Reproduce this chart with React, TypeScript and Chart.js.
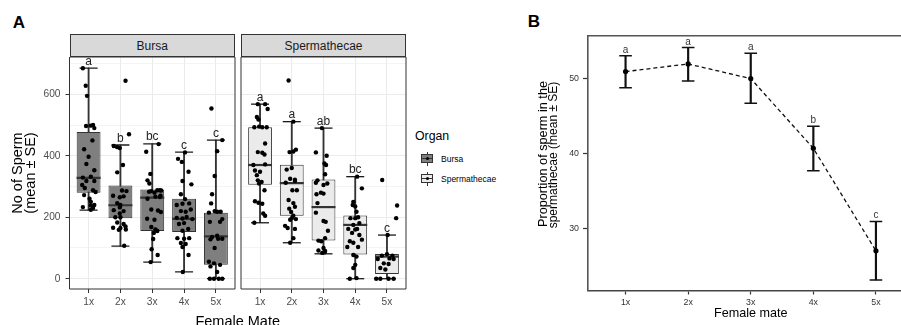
import React, { useEffect, useRef } from 'react';
import { Chart, registerables } from 'chart.js';

Chart.register(...registerables);

const FONT = '"Liberation Sans", Arial, Helvetica, sans-serif';

// ---------- shared axes ----------
const categories = ['1x', '2x', '3x', '4x', '5x'];
const organLabels = ['Bursa', 'Spermathecae'];
const countGridValues = [0, 100, 200, 300, 400, 500, 600, 700];
const countTickLabels = [0, 200, 400, 600];
const propTickLabels = [30, 40, 50];

// ---------- panel A : Bursa box statistics ----------
const bursaQ1 = [280, 197, 155, 152, 45];
const bursaMedian = [328, 239, 264, 195, 138];
const bursaQ3 = [477, 303, 290, 260, 215];
const bursaLow = [223, 106, 54, 22, 0];
const bursaHigh = [685, 435, 439, 412, 451];
const bursaLetters = ['a', 'b', 'bc', 'c', 'c'];

// ---------- panel A : Spermathecae box statistics ----------
const spermQ1 = [306, 205, 124, 79, 15];
const spermMedian = [370, 311, 233, 175, 72];
const spermQ3 = [493, 371, 323, 206, 80];
const spermLow = [182, 117, 81, 0, 0];
const spermHigh = [568, 511, 490, 332, 142];
const spermLetters = ['a', 'a', 'ab', 'bc', 'c'];

// ---------- panel A : individual females, [jitter (category units), count] ----------
type Pt = [number, number];
const bursa1x: Pt[] = [[-0.18,685],[-0.09,628],[-0.05,595],[-0.08,497],[0.07,498],[0.14,500],[0.18,490],[0.12,450],[-0.14,421],[0,397],[-0.07,373],[0.18,353],[-0.18,329],[0.07,332],[-0.07,318],[0.18,318],[-0.2,305],[-0.12,295],[0.14,288],[0.22,282],[-0.14,272],[0.03,260],[0.07,250],[0.18,240],[-0.18,233],[0.07,238],[0.14,230],[0.07,224]];
const bursa2x: Pt[] = [[0.16,644],[0.27,470],[-0.21,432],[-0.1,428],[-0.02,425],[0.08,370],[-0.1,346],[0.05,287],[0.19,285],[-0.23,270],[-0.02,265],[0.1,268],[-0.1,246],[0,240],[-0.02,232],[-0.21,223],[0.1,220],[-0.02,212],[-0.16,200],[0,200],[-0.1,183],[0.1,178],[-0.23,166],[0,165],[0.16,170],[-0.05,159],[0.17,160],[0.12,107]];
const bursa3x: Pt[] = [[0.2,438],[-0.19,413],[-0.06,341],[-0.15,320],[-0.09,310],[0.16,288],[0.24,288],[-0.03,285],[0.28,287],[0.07,280],[0.1,267],[0.24,266],[-0.15,260],[-0.03,225],[0.18,222],[0.27,217],[-0.16,195],[0.07,192],[-0.03,168],[0.1,160],[0.16,155],[0.05,149],[0.03,129],[-0.02,96],[0.17,77],[-0.05,54],[-0.1,283],[0.26,270]];
const bursa4x: Pt[] = [[0.03,411],[-0.19,390],[-0.07,380],[0.14,348],[-0.05,318],[0.23,307],[-0.1,275],[0.03,259],[-0.23,240],[-0.05,244],[0.16,245],[-0.1,220],[0.05,218],[0.21,225],[-0.23,198],[-0.05,196],[0.08,201],[0.26,194],[-0.16,178],[0,181],[0.13,162],[-0.05,156],[-0.21,132],[0,130],[0.16,132],[-0.1,116],[0.05,113],[-0.05,103],[0.14,77],[-0.04,22]];
const bursa5x: Pt[] = [[-0.14,554],[0.2,451],[0.04,415],[-0.04,334],[-0.12,275],[-0.15,245],[-0.22,215],[-0.04,220],[0.04,218],[0.15,218],[0.2,194],[-0.19,185],[0.13,185],[-0.12,136],[0.04,140],[0.07,130],[0.2,130],[-0.17,128],[-0.04,100],[-0.22,55],[-0.06,50],[0.13,45],[-0.17,40],[0.04,22],[-0.19,0],[-0.06,0],[0.09,0],[0.2,0]];

const sperm1x: Pt[] = [[-0.07,568],[0.16,568],[0.24,552],[-0.1,526],[-0.05,518],[-0.18,493],[-0.03,495],[0.07,493],[0.21,493],[0.16,440],[-0.07,412],[0.07,410],[0.14,404],[-0.21,370],[0.16,372],[-0.16,352],[0,348],[-0.1,337],[-0.07,320],[-0.03,310],[0.05,315],[0.14,288],[-0.16,252],[-0.05,247],[0.07,244],[0.1,212],[0.16,205],[-0.18,182]];
const sperm2x: Pt[] = [[-0.1,645],[0.05,511],[-0.07,412],[0.05,414],[0.13,420],[0,360],[-0.16,355],[-0.05,325],[0.1,322],[-0.19,312],[0.1,318],[0.02,288],[0.16,288],[-0.1,256],[0.05,246],[0.1,234],[-0.08,228],[-0.02,217],[0.05,205],[0,197],[0.13,194],[-0.05,192],[-0.21,172],[-0.13,165],[0.1,162],[0.05,132],[-0.05,117]];
const sperm3x: Pt[] = [[-0.05,490],[-0.24,411],[0.1,400],[0.03,375],[0.08,370],[0.05,340],[-0.19,320],[-0.24,312],[0.12,310],[0,305],[-0.22,275],[0,277],[-0.08,280],[-0.19,246],[-0.24,215],[0.07,185],[0,188],[0.14,156],[0.05,132],[-0.16,124],[-0.07,122],[0,100],[-0.16,92],[0.05,90],[-0.04,84],[0.03,86]];
const sperm4x: Pt[] = [[0.06,332],[0.21,294],[-0.06,250],[-0.08,240],[0,235],[0.04,218],[-0.15,197],[0,197],[0.09,200],[0.13,181],[-0.06,175],[-0.22,162],[0,160],[0.06,162],[-0.1,149],[0.13,142],[-0.17,122],[-0.06,117],[0.21,127],[-0.25,103],[0.09,103],[-0.06,77],[0.04,72],[0,45],[-0.06,35],[0.04,2],[-0.17,0]];
const sperm5x: Pt[] = [[-0.15,321],[0.32,238],[0.29,197],[0.02,142],[0,80],[-0.16,75],[0.17,75],[-0.29,64],[0.08,66],[0.21,64],[-0.1,50],[0.05,48],[-0.21,35],[-0.05,30],[-0.34,0],[-0.21,0],[0.05,0],[0.21,0]];

// ---------- panel B : proportion in spermathecae ----------
const propMean = [50.88, 51.9, 49.95, 40.69, 27.07];
const propUpper = [53.0, 54.07, 53.32, 43.62, 30.98];
const propLower = [48.75, 49.64, 46.68, 37.71, 23.2];
const propLetters = ['a', 'a', 'a', 'b', 'c'];

const BURSA_FILL = '#7f7f7f';
const SPERM_FILL = '#ebebeb';

function letterPlugin(labels: string[], at: number[], size: number, gap: number, color: string) {
  return {
    id: 'letters',
    afterDatasetsDraw(chart: any) {
      const { ctx, scales } = chart;
      ctx.save();
      ctx.font = `${size}px ${FONT}`;
      ctx.fillStyle = color;
      ctx.textAlign = 'center';
      ctx.textBaseline = 'alphabetic';
      labels.forEach((t, i) => {
        ctx.fillText(t, scales.x.getPixelForValue(i + 1), scales.y.getPixelForValue(at[i]) - gap);
      });
      ctx.restore();
    },
  };
}

function framePlugin(sides: string[], color: string, width: number) {
  return {
    id: 'frame',
    afterDraw(chart: any) {
      const { ctx, chartArea: a } = chart;
      ctx.save();
      ctx.strokeStyle = color;
      ctx.lineWidth = width;
      ctx.beginPath();
      if (sides.includes('top')) { ctx.moveTo(a.left, a.top); ctx.lineTo(a.right, a.top); }
      if (sides.includes('bottom')) { ctx.moveTo(a.left, a.bottom); ctx.lineTo(a.right, a.bottom); }
      if (sides.includes('left')) { ctx.moveTo(a.left, a.top); ctx.lineTo(a.left, a.bottom); }
      if (sides.includes('right')) { ctx.moveTo(a.right, a.top); ctx.lineTo(a.right, a.bottom); }
      ctx.stroke();
      ctx.restore();
    },
  };
}

const xPositions = categories.map((_, i) => i + 1);

function boxConfig(
  q1: number[], med: number[], q3: number[], lo: number[], hi: number[],
  pts: Pt[][], letters: string[], fill: string, showY: boolean, yWidth: number, padRight: number,
): any {
  const isMajor = (v: number) => countTickLabels.includes(v);
  return {
    type: 'bar',
    data: {
      datasets: [
        {
          type: 'bar', order: 5, grouped: false, barThickness: 1.2, borderWidth: 0,
          backgroundColor: '#333333',
          data: xPositions.map((x, i) => ({ x, y: [lo[i], hi[i]] })),
        },
        {
          type: 'bar', order: 4, grouped: false, barPercentage: 0.75, categoryPercentage: 1,
          backgroundColor: fill, borderColor: '#333333', borderWidth: 1, borderSkipped: false,
          data: xPositions.map((x, i) => ({ x, y: [q1[i], q3[i]] })),
        },
        {
          type: 'scatter', order: 3, pointStyle: 'line', pointRadius: 12, pointHoverRadius: 12,
          borderColor: '#333333', pointBorderColor: '#333333', pointBorderWidth: 2.2,
          data: xPositions.map((x, i) => ({ x, y: med[i] })),
        },
        {
          type: 'scatter', order: 2, pointStyle: 'line', pointRadius: 9, pointHoverRadius: 9,
          borderColor: '#1a1a1a', pointBorderColor: '#1a1a1a', pointBorderWidth: 1.3,
          data: [
            ...xPositions.map((x, i) => ({ x, y: lo[i] })),
            ...xPositions.map((x, i) => ({ x, y: hi[i] })),
          ],
        },
        {
          type: 'scatter', order: 1, pointRadius: 2.2, pointHoverRadius: 2.2,
          pointBackgroundColor: '#000000', backgroundColor: '#000000', pointBorderWidth: 0,
          data: pts.flatMap((g, i) => g.map(([dx, v]) => ({ x: i + 1 + dx, y: v }))),
        },
      ],
    },
    options: {
      responsive: false,
      animation: false,
      devicePixelRatio: 1,
      events: [],
      layout: { autoPadding: false, padding: { left: 0, right: padRight, top: 0, bottom: 0 } },
      plugins: { legend: { display: false }, tooltip: { enabled: false } },
      scales: {
        x: {
          type: 'linear', min: 0.4, max: 5.6, offset: false,
          afterBuildTicks: (s: any) => { s.ticks = xPositions.map((v) => ({ value: v })); },
          afterFit: (s: any) => { s.height = 36; s.paddingLeft = 0; s.paddingRight = 0; },
          ticks: {
            autoSkip: false, maxRotation: 0, padding: 3, color: '#4d4d4d',
            font: { family: FONT, size: 10.2 },
            callback: (v: number) => categories[Math.round(v) - 1],
          },
          grid: { offset: false, color: '#ebebeb', lineWidth: 1, tickColor: '#333333', tickLength: 4, tickWidth: 1 },
          border: { display: false },
        },
        y: {
          type: 'linear', min: -33.5, max: 721.4,
          afterBuildTicks: (s: any) => { s.ticks = countGridValues.map((v) => ({ value: v })); },
          afterFit: (s: any) => { s.width = yWidth; s.paddingTop = 0; s.paddingBottom = 0; },
          ticks: {
            display: showY, padding: 5, color: '#4d4d4d',
            font: { family: FONT, size: 10.2 },
            callback: (v: number) => (isMajor(v) ? String(v) : ''),
          },
          grid: {
            color: '#ebebeb',
            lineWidth: (c: any) => (c.tick && isMajor(c.tick.value) ? 1 : 0.55),
            tickColor: (c: any) => (c.tick && isMajor(c.tick.value) ? '#333333' : 'rgba(0,0,0,0)'),
            drawTicks: showY, tickLength: 4, tickWidth: 1,
          },
          border: { display: false },
          title: {
            display: showY,
            text: ['No of Sperm', '(mean ± SE)'],
            color: '#000000',
            font: { family: FONT, size: 14.5, lineHeight: 0.93 },
            padding: { top: 11.25, bottom: 0 },
          },
        },
      },
    },
    plugins: [letterPlugin(letters, hi, 12, 3.5, '#222222'), framePlugin(['top', 'bottom', 'left', 'right'], '#333333', 1)],
  };
}

function propConfig(): any {
  return {
    type: 'bar',
    data: {
      datasets: [
        {
          type: 'bar', order: 3, grouped: false, barThickness: 1.5, borderWidth: 0,
          backgroundColor: '#111111',
          data: xPositions.map((x, i) => ({ x, y: [propLower[i], propUpper[i]] })),
        },
        {
          type: 'scatter', order: 2, pointStyle: 'line', pointRadius: 6.3, pointHoverRadius: 6.3,
          borderColor: '#111111', pointBorderColor: '#111111', pointBorderWidth: 1.5,
          data: [
            ...xPositions.map((x, i) => ({ x, y: propLower[i] })),
            ...xPositions.map((x, i) => ({ x, y: propUpper[i] })),
          ],
        },
        {
          type: 'line', order: 1, borderColor: '#111111', borderWidth: 1.3, borderDash: [4, 3],
          pointRadius: 2.6, pointHoverRadius: 2.6, pointBackgroundColor: '#000000', pointBorderWidth: 0,
          tension: 0, fill: false,
          data: xPositions.map((x, i) => ({ x, y: propMean[i] })),
        },
      ],
    },
    options: {
      responsive: false,
      animation: false,
      devicePixelRatio: 1,
      events: [],
      layout: { autoPadding: false, padding: { left: 0, right: 26.5, top: 35.7, bottom: 0 } },
      plugins: { legend: { display: false }, tooltip: { enabled: false } },
      scales: {
        x: {
          type: 'linear', min: 0.4, max: 5.6, offset: false,
          afterBuildTicks: (s: any) => { s.ticks = xPositions.map((v) => ({ value: v })); },
          afterFit: (s: any) => { s.height = 34.5; s.paddingLeft = 0; s.paddingRight = 0; },
          ticks: {
            autoSkip: false, maxRotation: 0, padding: 3, color: '#333333',
            font: { family: FONT, size: 8.8 },
            callback: (v: number) => categories[Math.round(v) - 1],
          },
          grid: { offset: false, display: true, drawOnChartArea: false, tickColor: '#333333', tickLength: 4, tickWidth: 1.2 },
          border: { display: true, color: '#444444', width: 1.6 },
          title: {
            display: true, text: 'Female mate', color: '#000000',
            font: { family: FONT, size: 12.6, lineHeight: 1.2 },
            padding: { top: 0, bottom: 4.4 },
          },
        },
        y: {
          type: 'linear', min: 21.8, max: 55.65,
          afterBuildTicks: (s: any) => { s.ticks = propTickLabels.map((v) => ({ value: v })); },
          afterFit: (s: any) => { s.width = 88; s.paddingTop = 0; s.paddingBottom = 0; },
          ticks: { padding: 4, color: '#333333', font: { family: FONT, size: 8.8 } },
          grid: { display: true, drawOnChartArea: false, tickColor: '#333333', tickLength: 5, tickWidth: 1.2 },
          border: { display: true, color: '#555555', width: 1.6 },
          title: { display: false },
        },
      },
    },
    plugins: [letterPlugin(propLetters, propUpper, 10, 3, '#333333'), framePlugin(['top'], '#555555', 1.6)],
  };
}

const abs = (extra: React.CSSProperties): React.CSSProperties => ({ position: 'absolute', whiteSpace: 'nowrap', lineHeight: 1, ...extra });

function Strip({ left, width, text }: { left: number; width: number; text: string }) {
  return (
    <div style={abs({
      left, top: 34.3, width, height: 23, boxSizing: 'border-box', border: '1px solid #333333',
      background: '#d9d9d9', display: 'flex', alignItems: 'center', justifyContent: 'center',
      fontSize: 12, color: '#1a1a1a',
    })}>{text}</div>
  );
}

function LegendKey({ cy, fill }: { cy: number; fill: string }) {
  return (
    <>
      <div style={abs({ left: 426.5, top: cy - 7, width: 1, height: 14, background: '#333333' })} />
      <div style={abs({ left: 421, top: cy - 4.2, width: 12.3, height: 8.4, boxSizing: 'border-box', border: '1px solid #333333', background: fill })} />
      <div style={abs({ left: 421, top: cy - 0.6, width: 12.3, height: 1.2, background: '#333333' })} />
      <div style={abs({ left: 425.5, top: cy - 1.5, width: 3, height: 3, borderRadius: '50%', background: '#000000' })} />
    </>
  );
}

export default function App() {
  const bursaRef = useRef<HTMLCanvasElement>(null);
  const spermRef = useRef<HTMLCanvasElement>(null);
  const propRef = useRef<HTMLCanvasElement>(null);

  useEffect(() => {
    const charts = [
      new Chart(bursaRef.current as HTMLCanvasElement, boxConfig(
        bursaQ1, bursaMedian, bursaQ3, bursaLow, bursaHigh,
        [bursa1x, bursa2x, bursa3x, bursa4x, bursa5x], bursaLetters, BURSA_FILL, true, 69.5, 1)),
      new Chart(spermRef.current as HTMLCanvasElement, boxConfig(
        spermQ1, spermMedian, spermQ3, spermLow, spermHigh,
        [sperm1x, sperm2x, sperm3x, sperm4x, sperm5x], spermLetters, SPERM_FILL, false, 5, 2)),
      new Chart(propRef.current as HTMLCanvasElement, propConfig()),
    ];
    return () => charts.forEach((c) => c.destroy());
  }, []);

  return (
    <div style={{ position: 'fixed', left: 0, top: 0, width: 901, height: 325, overflow: 'hidden', background: '#ffffff', fontFamily: FONT }}>
      <div style={abs({ left: 18.9, top: 22, transform: 'translate(-50%,-50%)', fontSize: 17, fontWeight: 700, color: '#000' })}>A</div>
      <div style={abs({ left: 533.8, top: 21.2, transform: 'translate(-50%,-50%)', fontSize: 17, fontWeight: 700, color: '#000' })}>B</div>

      <Strip left={69.5} width={165.5} text={organLabels[0]} />
      <Strip left={241} width={165} text={organLabels[1]} />

      <canvas ref={bursaRef} width={236} height={268} style={{ position: 'absolute', left: 0, top: 57 }} />
      <canvas ref={spermRef} width={172} height={268} style={{ position: 'absolute', left: 236, top: 57 }} />
      <canvas ref={propRef} width={440} height={325} style={{ position: 'absolute', left: 500, top: 0 }} />

      <div style={abs({ left: 237.7, top: 321.2, transform: 'translate(-50%,-50%)', fontSize: 14.5, color: '#000' })}>Female Mate</div>

      <div style={abs({ left: 415, top: 136, transform: 'translateY(-50%)', fontSize: 12.3, color: '#000' })}>Organ</div>
      <LegendKey cy={158.5} fill={BURSA_FILL} />
      <LegendKey cy={178.5} fill={SPERM_FILL} />
      <div style={abs({ left: 441, top: 158.5, transform: 'translateY(-50%)', fontSize: 8.5, color: '#000' })}>{organLabels[0]}</div>
      <div style={abs({ left: 441, top: 178.5, transform: 'translateY(-50%)', fontSize: 8.5, color: '#000' })}>{organLabels[1]}</div>

      <div style={abs({ left: 542.7, top: 153.5, transform: 'translate(-50%,-50%) rotate(-90deg)', fontSize: 12.7, color: '#000' })}>Proportion of sperm in the</div>
      <div style={abs({ left: 553, top: 154.5, transform: 'translate(-50%,-50%) rotate(-90deg)', fontSize: 12, color: '#000' })}>spermathecae (mean ± SE)</div>
    </div>
  );
}
